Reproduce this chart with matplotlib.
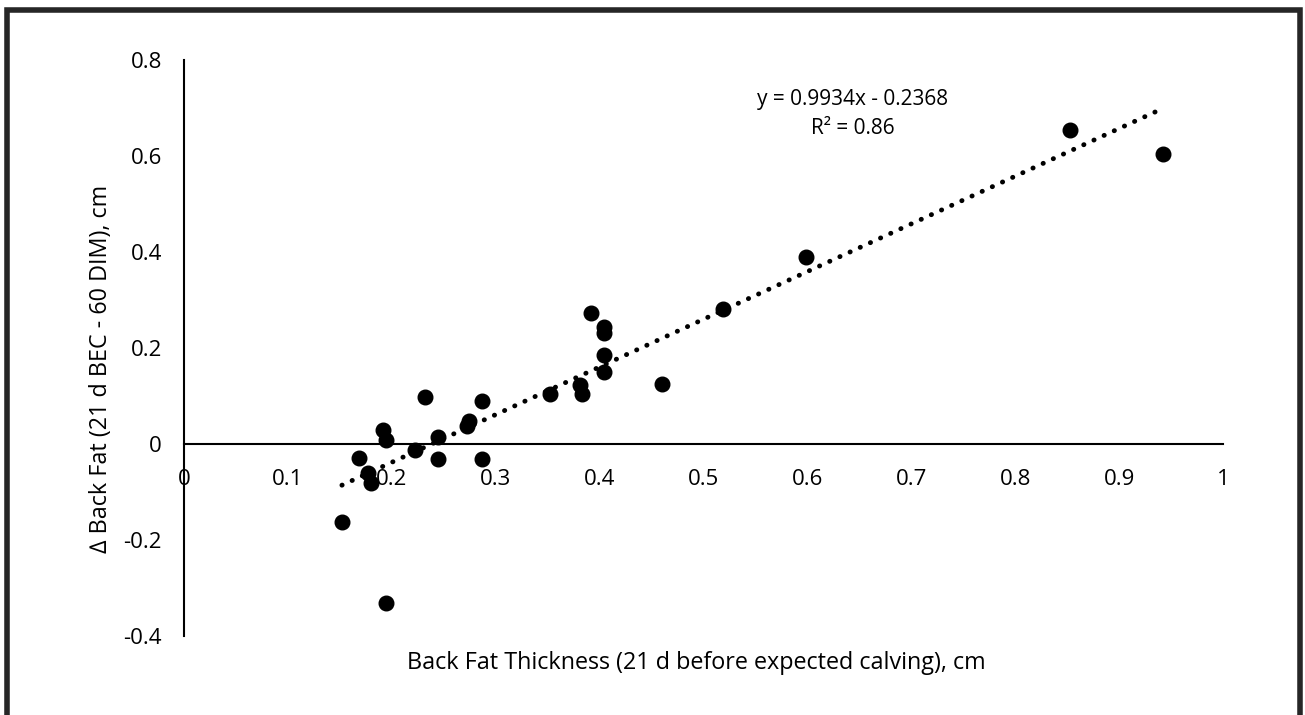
import matplotlib
matplotlib.use("Agg")
import matplotlib.pyplot as plt
from matplotlib.patches import Rectangle
import numpy as np

# Data
back_fat_thickness = [0.152, 0.168, 0.177, 0.180, 0.192, 0.194, 0.194, 0.222, 0.232,
                      0.244, 0.244, 0.272, 0.274, 0.287, 0.287, 0.352, 0.381, 0.383,
                      0.392, 0.404, 0.404, 0.404, 0.404, 0.460, 0.519, 0.599, 0.853, 0.942]
delta_back_fat = [-0.162, -0.030, -0.061, -0.082, 0.030, 0.008, -0.331, -0.012, 0.098,
                  0.014, -0.031, 0.037, 0.047, 0.090, -0.031, 0.104, 0.123, 0.104,
                  0.272, 0.244, 0.231, 0.185, 0.151, 0.124, 0.281, 0.389, 0.654, 0.604]
slope = 0.9934
intercept = -0.2368
r_squared = 0.86
x_ticks = [0, 0.1, 0.2, 0.3, 0.4, 0.5, 0.6, 0.7, 0.8, 0.9, 1]
x_tick_labels = ["0", "0.1", "0.2", "0.3", "0.4", "0.5", "0.6", "0.7", "0.8", "0.9", "1"]
y_ticks = [-0.4, -0.2, 0, 0.2, 0.4, 0.6, 0.8]
y_tick_labels = ["-0.4", "-0.2", "0", "0.2", "0.4", "0.6", "0.8"]

plt.rcParams['font.family'] = ['Open Sans', 'DejaVu Sans']

W, H = 1305, 715
fig = plt.figure(figsize=(W / 100, H / 100), dpi=100)
fig.patch.set_facecolor('white')

ax = fig.add_axes([184 / W, 1 - 636 / H, (1223 - 184) / W, (636 - 60) / H])
ax.set_xlim(0, 1)
ax.set_ylim(-0.4, 0.8)

# spines
ax.spines['top'].set_visible(False)
ax.spines['right'].set_visible(False)
ax.spines['bottom'].set_position(('data', 0))
ax.spines['left'].set_position(('data', 0))
for s in ('bottom', 'left'):
    ax.spines[s].set_linewidth(1.5)
    ax.spines[s].set_color('black')

ax.set_xticks(x_ticks)
ax.set_xticklabels(x_tick_labels)
ax.set_yticks(y_ticks)
ax.set_yticklabels(y_tick_labels)
ax.tick_params(axis='x', length=0, pad=18, labelsize=16)
ax.tick_params(axis='y', length=0, pad=16, labelsize=16)

# scatter points
ax.plot(back_fat_thickness, delta_back_fat, 'o', color='black', markersize=10.5,
        zorder=3, clip_on=False)

# trend line
xt = np.linspace(min(back_fat_thickness), max(back_fat_thickness), 200)
ax.plot(xt, slope * xt + intercept, color='black', linewidth=3.5,
        linestyle=(0, (0.05, 2.25)), dash_capstyle='round', zorder=2)

# equation text
fig.text(853 / W, 1 - 100 / H, f"y = {slope:.4f}x - {abs(intercept):.4f}",
         ha='center', va='center', fontsize=15)
fig.text(853 / W, 1 - 128 / H, f"R² = {r_squared:.2f}",
         ha='center', va='center', fontsize=15)

# axis labels
fig.text(696 / W, 1 - 663 / H, "Back Fat Thickness (21 d before expected calving), cm",
         ha='center', va='center', fontsize=16.8)
fig.text(101 / W, 1 - 369 / H, "\u2206 Back Fat (21 d BEC - 60 DIM), cm",
         ha='center', va='center', rotation=90, fontsize=16.8)

# outer frame
fig.add_artist(Rectangle((6.5 / W, -0.05), (1299.5 - 6.5) / W, 1.05 - 9.5 / H,
                         transform=fig.transFigure, fill=False,
                         edgecolor='#262626', linewidth=4, clip_on=False))

fig.savefig('out.png', dpi=100)
